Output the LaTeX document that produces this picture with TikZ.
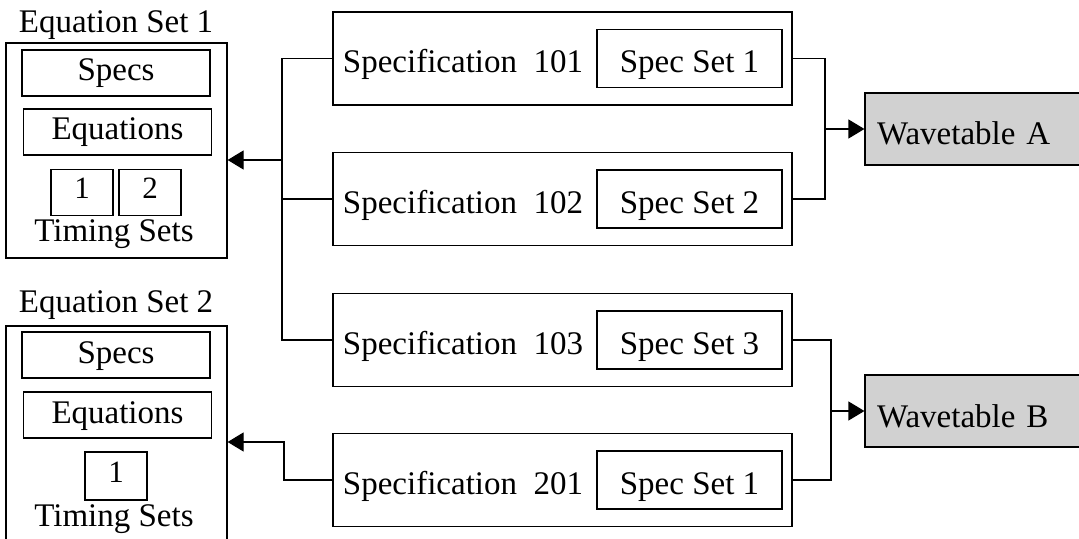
\documentclass[tikz,border=0pt]{standalone}
\usepackage{fontspec}
\setmainfont{Liberation Serif}
\usetikzlibrary{arrows.meta,positioning}
\tikzset{
  box/.style={draw,rectangle,inner sep=0pt},
  eqbox/.style={box,minimum width=110.5pt,minimum height=107.5pt},
  inbox/.style={box,minimum width=94pt,minimum height=23pt,text height=10pt,text depth=2pt},
  tsbox/.style={box,minimum width=31pt,minimum height=23pt,text height=8pt,text depth=2pt,
    font=\fontsize{15.5}{18}\selectfont},
  specbox/.style={box,minimum width=229.5pt,minimum height=46.5pt},
  setbox/.style={box,minimum width=92.5pt,minimum height=29pt,text height=14.5pt,text depth=0pt},
  wave/.style={box,fill=black!18,minimum height=36pt,text width=100.5pt,inner xsep=6pt,align=left,
    text height=16pt,text depth=0pt}
}

\begin{document}
\begin{tikzpicture}[x=0.5pt,y=-0.5pt,>={Triangle[length=8pt,width=9.5pt]},line width=0.6pt,
    font=\fontsize{16.5}{19}\selectfont]
  \useasboundingbox (0,0) rectangle (1079,539);
  \clip (0,0) rectangle (1079,539);

  % equation set 1
  \node[anchor=base] (lab1) at (116,33) {Equation Set 1};
  \node[eqbox] (es1) at (116.5,150.5) {};
  \node[inbox] (sp1) at (116,73) {Specs};
  \node[inbox] (eq1) at (117.5,132) {Equations};
  \node[tsbox] (t1a) at (82,192.5) {1};
  \node[tsbox] (t1b) at (150,192.5) {2};
  \node[anchor=base] (tl1) at (114,242) {Timing Sets};

  % equation set 2
  \node[anchor=base] (lab2) at (116,313) {Equation Set 2};
  \node[eqbox,minimum height=110pt] (es2) at (116.5,436) {};
  \node[inbox] (sp2) at (116,355) {Specs};
  \node[inbox] (eq2) at (117.5,415) {Equations};
  \node[tsbox,minimum height=24pt] (t2a) at (116,476) {1};
  \node[anchor=base] (tl2) at (114,526) {Timing Sets};

  % specifications
  \foreach \n/\s/\y in {101/1/58.5,102/2/199,103/3/340,201/1/480}{
    \node[specbox] (s\n) at (562.5,\y) {};
    \node[anchor=base] (st\n) at (463,\y+14.5) {Specification~~\n};
    \node[setbox] (ss\n) at (689.5,\y) {Spec Set \s};
  }

  % wavetables
  \node[wave] (wa) at (977.5,129) {Wavetable A};
  \node[wave] (wb) at (977.5,411) {Wavetable B};

  \coordinate (bl) at (282,160);
  \coordinate (bl2) at (284,442);
  \coordinate (br) at (825,129);
  \coordinate (br2) at (831,411);

  \draw (s101.west) -| (bl) |- (s103.west);
  \draw (s102.west) -- (s102.west -| bl);
  \draw[->] (bl) -- (bl -| es1.east);
  \draw[->] (s201.west) -| (bl2) -- (bl2 -| es2.east);

  \draw (s101.east) -| (br) |- (s102.east);
  \draw[->] (br) -- (wa.west);
  \draw (s103.east) -| (br2) |- (s201.east);
  \draw[->] (br2) -- (wb.west);
\end{tikzpicture}
\end{document}
